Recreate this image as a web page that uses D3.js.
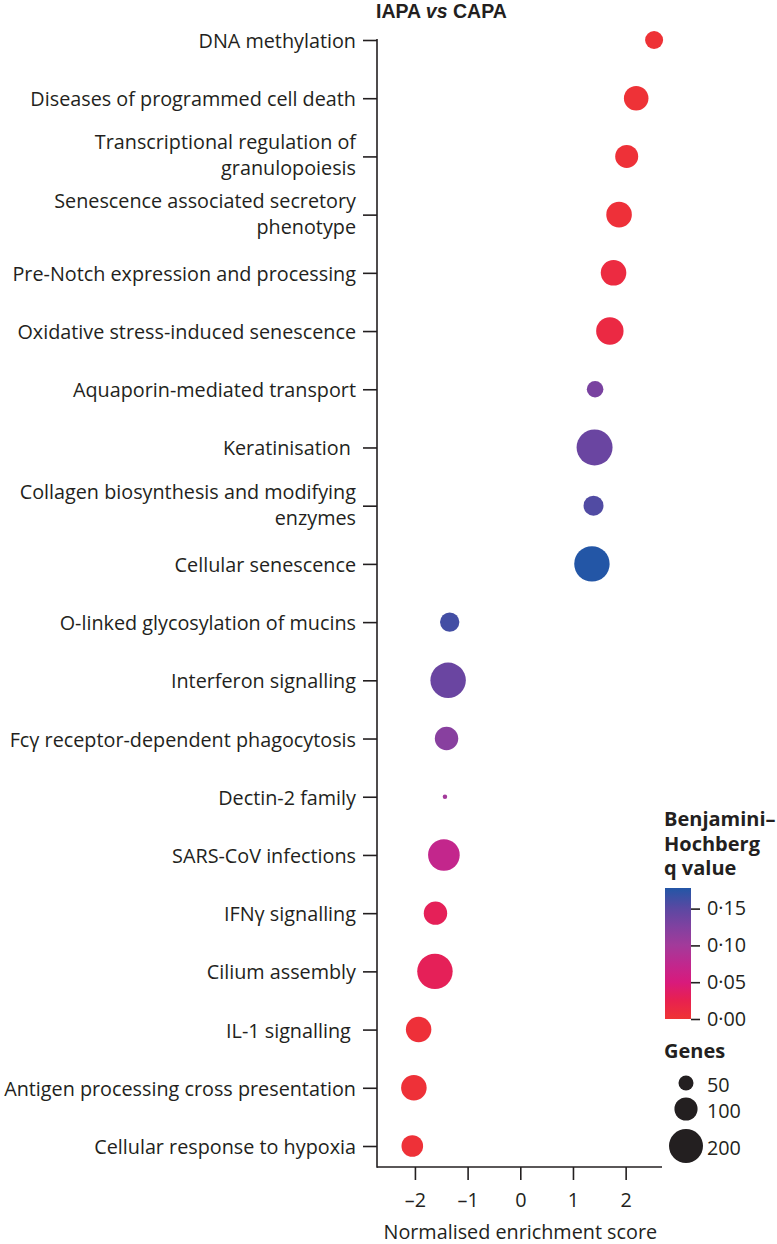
<!DOCTYPE html>
<html>
<head>
<meta charset="utf-8">
<script src="https://cdn.jsdelivr.net/npm/d3@7"></script>
<style>
  html, body { margin: 0; padding: 0; background: #fff; }
  svg { display: block; font-family: "Open Sans", "Noto Sans", sans-serif; }
</style>
</head>
<body>
<svg id="chart" width="777" height="1244"></svg>
<script>
// ---- data ----
const categories = [
  "DNA methylation",
  "Diseases of programmed cell death",
  "Transcriptional regulation of\ngranulopoiesis",
  "Senescence associated secretory\nphenotype",
  "Pre-Notch expression and processing",
  "Oxidative stress-induced senescence",
  "Aquaporin-mediated transport",
  "Keratinisation\u00a0",
  "Collagen biosynthesis and modifying\nenzymes",
  "Cellular senescence",
  "O-linked glycosylation of mucins",
  "Interferon signalling",
  "Fc\u03b3 receptor-dependent phagocytosis",
  "Dectin-2 family",
  "SARS-CoV infections",
  "IFN\u03b3 signalling",
  "Cilium assembly",
  "IL-1 signalling\u00a0",
  "Antigen processing cross presentation",
  "Cellular response to hypoxia"
];
const nes = [2.54, 2.20, 2.02, 1.875, 1.77, 1.70, 1.42, 1.41, 1.39, 1.36,
             -1.34, -1.37, -1.40, -1.43, -1.45, -1.61, -1.62, -1.93, -2.02, -2.05];
const genes = [66, 111, 99, 119, 119, 135, 58, 222, 78, 216,
               74, 216, 102, 17, 175, 102, 216, 118, 119, 89];
const qvals = [0.002, 0.003, 0.004, 0.005, 0.012, 0.014, 0.13, 0.14, 0.155, 0.178,
               0.162, 0.14, 0.12, 0.10, 0.072, 0.03, 0.03, 0.005, 0.004, 0.004];

const xTicks = [-2, -1, 0, 1, 2];
const qTicks = [0, 0.05, 0.10, 0.15];
const sizeTicks = [50, 100, 200];
const qStops = [0, 0.025, 0.05, 0.075, 0.10, 0.125, 0.15, 0.178];
const colorStops = ["#ef3434", "#e8214f", "#d81a7c", "#c0288e", "#a33a9a", "#8141a0", "#5b48a2", "#2356a6"];

const titleText = "Normalised enrichment score";
const legendTitle = ["Benjamini\u2013", "Hochberg", "q value"];

// ---- layout ----
const svg = d3.select("#chart");
const ink = "#231f20";
const fontSize = 19.8;

const x = d3.scaleLinear().domain([-2.72, 2.69]).range([377, 662]);
const y = d3.scalePoint().domain(categories).range([40, 1146]);
const axisBottomY = 1167;
const axisTopY = 39;

const color = d3.scaleLinear().domain(qStops).range(colorStops).interpolate(d3.interpolateRgb);
const area = d3.scaleLinear().domain([50, 200]).range([7.5 * 7.5, 17 * 17]);
const radius = n => Math.sqrt(Math.max(1, area(n)));

// Title
const t = svg.append("text").attr("x", 376).attr("y", 18)
  .attr("font-family", "'Liberation Sans', Arial, sans-serif")
  .attr("font-size", 19.5).attr("font-weight", 700).attr("fill", ink);
t.append("tspan").text("IAPA ");
t.append("tspan").attr("font-style", "italic").text("vs");
t.append("tspan").text(" CAPA");

// Y axis
const yAxis = d3.axisLeft(y).tickSize(14).tickSizeOuter(0).tickFormat("");
const gy = svg.append("g").attr("transform", "translate(377,0)").call(yAxis);
gy.select(".domain").remove();
gy.selectAll(".tick line").attr("stroke", ink).attr("stroke-width", 1.6);
svg.append("line").attr("x1", 377).attr("x2", 377).attr("y1", axisTopY).attr("y2", axisBottomY + 0.8)
  .attr("stroke", ink).attr("stroke-width", 1.6);

// Y labels (multi-line)
const labG = svg.append("g").attr("font-size", fontSize).attr("fill", ink).attr("text-anchor", "end");
categories.forEach(c => {
  const lines = c.split("\n");
  const lh = 26;
  const txt = labG.append("text").attr("x", 356).attr("y", y(c))
    .attr("dominant-baseline", "central").style("white-space", "pre");
  lines.forEach((ln, i) => {
    txt.append("tspan").attr("x", 356)
      .attr("dy", i === 0 ? (-(lines.length - 1) * lh / 2 - (lines.length > 1 ? 2 : 0)) : lh)
      .text(ln);
  });
});

// X axis
const xAxis = d3.axisBottom(x).tickValues(xTicks).tickSize(13).tickSizeOuter(0)
  .tickFormat(d => d < 0 ? "\u2013" + Math.abs(d) : String(d));
const gx = svg.append("g").attr("transform", `translate(0,${axisBottomY})`).call(xAxis);
gx.select(".domain").attr("d", `M377,0H662`).attr("stroke", ink).attr("stroke-width", 1.6);
gx.selectAll(".tick line").attr("stroke", ink).attr("stroke-width", 1.6);
gx.selectAll(".tick text").attr("font-size", fontSize).attr("fill", ink)
  .attr("y", 0).attr("dy", 40)
  .attr("font-family", "'Open Sans', sans-serif");
svg.append("text").attr("x", x(0)).attr("y", 1239).attr("text-anchor", "middle")
  .attr("font-size", fontSize).attr("fill", ink).text(titleText);

// Dots
svg.append("g").selectAll("circle").data(categories).join("circle")
  .attr("cx", (d, i) => x(nes[i]))
  .attr("cy", d => y(d))
  .attr("r", (d, i) => radius(genes[i]))
  .attr("fill", (d, i) => color(qvals[i]));

// Colour legend
const lg = svg.append("g");
legendTitle.forEach((s, i) => {
  lg.append("text").attr("x", 664).attr("y", 826 + i * 24.5)
    .attr("font-size", 20).attr("font-weight", 700).attr("fill", ink).text(s);
});
const qMax = qStops[qStops.length - 1];
const cb = d3.scaleLinear().domain([0, qMax]).range([1019, 888]);
const defs = svg.append("defs");
const grad = defs.append("linearGradient").attr("id", "qgrad")
  .attr("x1", 0).attr("x2", 0).attr("y1", 1).attr("y2", 0);
qStops.forEach((q, i) => {
  grad.append("stop").attr("offset", q / qMax).attr("stop-color", colorStops[i]);
});
lg.append("rect").attr("x", 665).attr("y", cb(qMax)).attr("width", 26)
  .attr("height", cb(0) - cb(qMax)).attr("fill", "url(#qgrad)");
const cAxis = d3.axisRight(cb).tickValues(qTicks).tickSize(9).tickSizeOuter(0)
  .tickFormat(d => d3.format(".2f")(d).replace(".", "\u00b7"));
const gc = lg.append("g").attr("transform", "translate(691,0)").call(cAxis);
gc.select(".domain").remove();
gc.selectAll(".tick line").attr("stroke", ink).attr("stroke-width", 1.6);
gc.selectAll(".tick text").attr("font-size", fontSize).attr("fill", ink).attr("x", 16)
  .attr("font-family", "'Open Sans', sans-serif");

// Size legend
lg.append("text").attr("x", 664).attr("y", 1058)
  .attr("font-size", 20).attr("font-weight", 700).attr("fill", ink).text("Genes");
const sizeY = [1083, 1109, 1146];
sizeTicks.forEach((n, i) => {
  lg.append("circle").attr("cx", 686).attr("cy", sizeY[i]).attr("r", radius(n)).attr("fill", ink);
  lg.append("text").attr("x", 707).attr("y", sizeY[i] + 1).attr("dominant-baseline", "central")
    .attr("font-size", fontSize).attr("fill", ink).text(n);
});
</script>
</body>
</html>
